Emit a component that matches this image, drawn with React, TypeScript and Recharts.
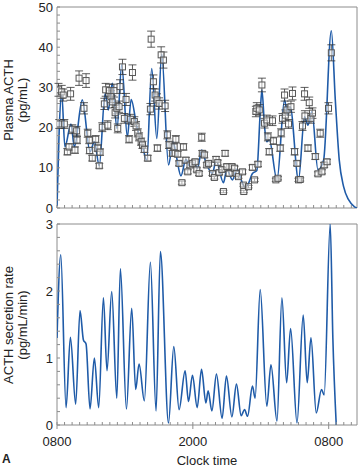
import React from 'react';
import { ComposedChart, Line, Scatter, ErrorBar, XAxis, YAxis, ReferenceArea } from 'recharts';

const FONT = '"Liberation Sans", Arial, Helvetica, sans-serif';
const BLUE = '#1f5ba8';
const FRAME = '#8c8c8c';
const TEXT = '#222';

// plasma ACTH samples: minutes after 0800, pg/mL, +/- error
const sampleTimes = [
  8, 12, 25, 33, 39, 55, 64, 72, 81, 95,
  104, 106, 117, 143, 154, 163, 171, 173, 187, 205,
  216, 224, 228, 240, 251, 258, 269, 278, 286, 293,
  302, 308, 317, 322, 329, 334, 347, 357, 366, 382,
  389, 400, 410, 419, 428, 435, 446, 453, 463, 481,
  495, 499, 511, 520, 530, 532, 541, 552, 564, 573,
  585, 594, 612, 621, 626, 630, 640, 647, 662, 670,
  683, 693, 705, 718, 732, 741, 753, 767, 770, 781,
  794, 803, 824, 834, 843, 852, 859, 874, 882, 891,
  900, 912, 927, 941, 950, 962, 983, 988, 990, 1015,
  1036, 1047, 1054, 1059, 1065, 1072, 1086, 1100, 1112, 1118,
  1125, 1142, 1147, 1160, 1171, 1183, 1188, 1195, 1206, 1210,
  1219, 1227, 1240, 1248, 1259, 1272, 1280, 1289, 1301, 1312,
  1314, 1330, 1337, 1346, 1354, 1369, 1383, 1395, 1404, 1416,
  1431, 1439, 1454,
];
const sampleValues = [
  29.4, 20.9, 28.9, 28.1, 20.9, 14.0, 15.2, 28.4, 19.6, 14.4,
  19.2, 16.9, 32.3, 24.8, 31.7, 18.6, 16.9, 14.3, 12.4, 17.1,
  14.9, 10.5, 13.9, 20.1, 25.9, 29.4, 20.6, 29.2, 27.7, 26.4,
  29.2, 23.7, 24.8, 19.8, 25.2, 30.2, 35.1, 22.3, 27.0, 17.1,
  22.1, 33.7, 21.5, 20.4, 18.7, 17.7, 16.5, 15.7, 14.6, 12.4,
  24.6, 42.0, 31.4, 28.1, 26.9, 14.9, 26.0, 38.1, 36.8, 25.4,
  18.2, 15.7, 13.6, 15.2, 13.6, 17.1, 13.4, 11.1, 6.3, 15.2,
  11.9, 9.0, 10.7, 11.1, 11.5, 9.5, 8.6, 17.6, 13.6, 13.2,
  10.7, 11.1, 8.6, 7.6, 12.1, 11.3, 8.8, 9.6, 4.1, 13.6,
  10.3, 8.6, 10.3, 9.9, 8.6, 7.8, 9.0, 5.7, 4.1, 5.3,
  10.1, 7.0, 24.0, 24.8, 10.9, 24.4, 30.6, 21.1, 21.9, 17.7,
  14.0, 21.7, 16.7, 7.0, 7.4, 14.9, 18.7, 22.3, 28.1, 23.1,
  24.4, 20.9, 25.2, 28.5, 14.0, 11.1, 7.0, 7.1, 20.4, 28.4,
  22.9, 14.9, 26.2, 22.3, 23.6, 12.8, 8.5, 18.6, 9.0, 10.7,
  11.5, 24.8, 38.6,
];
const sampleErrors = [
  1.6, 1.1, 1.6, 1.5, 1.1, 0.8, 0.8, 1.6, 1.1, 0.8,
  1.1, 0.9, 1.8, 1.4, 1.7, 1.0, 0.9, 0.8, 0.7, 0.9,
  0.8, 0.6, 0.8, 1.1, 1.4, 1.6, 1.1, 1.6, 1.5, 1.5,
  1.6, 1.3, 1.4, 1.1, 1.4, 1.7, 1.9, 1.2, 1.5, 0.9,
  1.2, 1.9, 1.2, 1.1, 1.0, 1.0, 0.9, 0.9, 0.8, 0.7,
  1.4, 2.0, 1.7, 1.5, 1.5, 0.8, 1.4, 2.0, 2.0, 1.4,
  1.0, 0.9, 0.7, 0.8, 0.7, 0.9, 0.7, 0.6, 0.4, 0.8,
  0.7, 0.5, 0.6, 0.6, 0.6, 0.5, 0.5, 1.0, 0.7, 0.7,
  0.6, 0.6, 0.5, 0.4, 0.7, 0.6, 0.5, 0.5, 0.3, 0.7,
  0.6, 0.5, 0.6, 0.5, 0.5, 0.4, 0.5, 0.3, 0.3, 0.3,
  0.6, 0.4, 1.3, 1.4, 0.6, 1.3, 1.7, 1.2, 1.2, 1.0,
  0.8, 1.2, 0.9, 0.4, 0.4, 0.8, 1.0, 1.2, 1.5, 1.3,
  1.3, 1.1, 1.4, 1.6, 0.8, 0.6, 0.4, 0.4, 1.1, 1.6,
  1.3, 0.8, 1.4, 1.2, 1.3, 0.7, 0.5, 1.0, 0.5, 0.6,
  0.6, 1.4, 2.0,
];

// fitted concentration curve
const fitTimes = [
  0, 12, 25, 42, 74, 92, 134, 175, 198, 224,
  255, 272, 293, 318, 343, 373, 393, 423, 453, 476,
  502, 529, 555, 591, 615, 632, 657, 683, 705, 723,
  745, 767, 790, 824, 843, 882, 900, 930, 953, 994,
  1010, 1036, 1059, 1077, 1086, 1100, 1112, 1125, 1166, 1206,
  1222, 1236, 1280, 1312, 1330, 1351, 1383, 1413, 1454, 1475,
  1496, 1519, 1546, 1577, 1590,
];
const fitValues = [
  0.5, 20, 28.5, 15.2, 20.9, 15.2, 26.9, 14.0, 16.5, 10.5,
  28.5, 24.4, 31.0, 19.8, 35.6, 17.7, 27.0, 20.2, 15.3, 11.9,
  34.7, 17.3, 38.3, 10.7, 16.5, 13.0, 8.0, 12.1, 10.3, 11.3,
  9.9, 14.4, 11.2, 8.6, 11.9, 6.3, 9.5, 7.0, 9.6, 5.3,
  5.7, 8.6, 9.3, 23.6, 29.4, 20.2, 16.5, 17.0, 7.0, 26.9,
  23.1, 25.2, 7.0, 22.7, 20.6, 24.0, 9.5, 11.9, 44.1, 26.9,
  11.9, 5.3, 2.0, 0.3, 0,
];

// deconvolved secretion rate
const rateTimes = [
  0, 20, 48, 71, 99, 122, 140, 154, 175, 198,
  221, 246, 265, 290, 317, 336, 368, 396, 417, 435,
  463, 495, 525, 548, 591, 619, 647, 679, 697, 718,
  743, 766, 789, 801, 821, 845, 875, 898, 927, 951,
  976, 994, 1010, 1036, 1050, 1077, 1112, 1134, 1166, 1192,
  1217, 1238, 1272, 1305, 1326, 1346, 1374, 1402, 1416, 1448,
  1462, 1480,
];
const rateValues = [
  1.3, 2.54, 0.26, 1.31, 0.31, 1.71, 1.27, 1.21, 0.24, 1.0,
  0.26, 1.9, 0.81, 1.99, 0.4, 2.33, 0.24, 1.74, 0.53, 0.91,
  0.36, 2.43, 0.21, 2.59, 0.03, 1.17, 0.23, 0.81, 0.35, 0.74,
  0.26, 0.83, 0.33, 0.51, 0.21, 0.76, 0.1, 0.73, 0.12, 0.61,
  0.14, 0.23, 0.13, 0.58, 0.4, 2.02, 0.28, 0.9, 0.06, 1.9,
  0.63, 1.44, 0.03, 1.64, 0.63, 1.3, 0.18, 0.53, 0.45, 3.0,
  1.3, 0,
];

const clockTicks = [0, 720, 1440];
const clockLabels = ['0800', '2000', '0800'];
const acthLabels = [0, 10, 20, 30, 40, 50];
const rateLabels = [0, 1, 2, 3];

const X_MAX = 1590;
const minorX = Array.from({ length: 40 }, (_, i) => i * 40);
const minorActh = Array.from({ length: 26 }, (_, i) => i * 2);
const minorRate = Array.from({ length: 16 }, (_, i) => (i * 2) / 10);

const sampleData = sampleTimes.map((t, i) => ({ t, v: sampleValues[i], err: sampleErrors[i] }));
const fitData = fitTimes.map((t, i) => ({ t, v: fitValues[i] }));
const rateData = rateTimes.map((t, i) => ({ t, v: rateValues[i] }));

function XTick(props: any) {
  const { x, y, payload, labelled } = props;
  const idx = clockTicks.indexOf(payload.value);
  const major = labelled && idx >= 0;
  return (
    <g>
      <line x1={x} x2={x} y1={y} y2={y - 3} stroke={FRAME} />
      {major && <line x1={x} x2={x} y1={y} y2={y + 4} stroke={FRAME} />}
      {major && (
        <text x={x} y={y + 21} textAnchor="middle" fontSize={13} fontFamily={FONT} fill={TEXT}>
          {clockLabels[idx]}
        </text>
      )}
    </g>
  );
}

function YTick(props: any) {
  const { x, y, payload, labels } = props;
  const v = payload.value;
  const show = labels.some((l: number) => Math.abs(l - v) < 1e-6);
  return (
    <g>
      <line x1={x} x2={x + 3} y1={y} y2={y} stroke={FRAME} />
      {show && (
        <text x={x - 4} y={y} dy="0.35em" textAnchor="end" fontSize={13} fontFamily={FONT} fill={TEXT}>
          {v}
        </text>
      )}
    </g>
  );
}

function AxisTitle({ lines, cy }: { lines: string[]; cy: number }) {
  const xs = [13, 27];
  return (
    <g>
      {lines.map((s, i) => (
        <text
          key={i}
          x={xs[i]}
          y={cy}
          transform={`rotate(-90 ${xs[i]} ${cy})`}
          textAnchor="middle"
          fontSize={13}
          fontFamily={FONT}
          fill={TEXT}
        >
          {s}
        </text>
      ))}
    </g>
  );
}

function BottomTitle() {
  return (
    <g>
      <text x={207} y={250} textAnchor="middle" fontSize={13} fontFamily={FONT} fill={TEXT}>
        Clock time
      </text>
      <text x={2} y={248} fontSize={12} fontWeight="bold" fontFamily={FONT} fill={TEXT}>
        A
      </text>
    </g>
  );
}

const SquareMark = (p: any) => (
  <rect x={p.cx - 3} y={p.cy - 3} width={6} height={6} fill="#fff" fillOpacity={0.5} stroke="#555" strokeWidth={1} />
);

export default function App() {
  return (
    <div style={{ position: 'absolute', left: 0, top: 0, width: 359, height: 467, background: '#fff' }}>
      <div style={{ position: 'absolute', left: 0, top: 0 }}>
        <ComposedChart width={359} height={215} margin={{ top: 7, right: 2, bottom: 0, left: 0 }}>
          <XAxis
            type="number"
            dataKey="t"
            domain={[0, X_MAX]}
            ticks={minorX}
            interval={0}
            height={7}
            axisLine={false}
            tickLine={false}
            tickSize={0}
            tickMargin={0}
            allowDataOverflow
            tick={(p: any) => <XTick {...p} labelled={false} />}
          />
          <YAxis
            type="number"
            domain={[0, 50]}
            ticks={minorActh}
            interval={0}
            width={57}
            axisLine={false}
            tickLine={false}
            tickSize={0}
            tickMargin={0}
            allowDataOverflow
            tick={(p: any) => <YTick {...p} labels={acthLabels} />}
            label={<AxisTitle lines={['Plasma ACTH', '(pg/mL)']} cy={100} />}
          />
          <ReferenceArea x1={0} x2={X_MAX} y1={0} y2={50} fill="none" stroke={FRAME} ifOverflow="visible" />
          <Line
            data={fitData}
            dataKey="v"
            type="monotone"
            stroke={BLUE}
            strokeWidth={1.6}
            dot={false}
            isAnimationActive={false}
          />
          <Scatter data={sampleData} dataKey="v" shape={SquareMark} isAnimationActive={false}>
            <ErrorBar dataKey="err" direction="y" width={4} stroke="#333" strokeWidth={0.8} />
          </Scatter>
        </ComposedChart>
      </div>
      <div style={{ position: 'absolute', left: 0, top: 215 }}>
        <ComposedChart width={359} height={252} margin={{ top: 9, right: 2, bottom: 0, left: 0 }}>
          <XAxis
            type="number"
            dataKey="t"
            domain={[0, X_MAX]}
            ticks={minorX}
            interval={0}
            height={42}
            axisLine={false}
            tickLine={false}
            tickSize={0}
            tickMargin={0}
            allowDataOverflow
            tick={(p: any) => <XTick {...p} labelled />}
            label={<BottomTitle />}
          />
          <YAxis
            type="number"
            domain={[0, 3]}
            ticks={minorRate}
            interval={0}
            width={57}
            axisLine={false}
            tickLine={false}
            tickSize={0}
            tickMargin={0}
            allowDataOverflow
            tick={(p: any) => <YTick {...p} labels={rateLabels} />}
            label={<AxisTitle lines={['ACTH secretion rate', '(pg/mL/min)']} cy={110} />}
          />
          <ReferenceArea x1={0} x2={X_MAX} y1={0} y2={3} fill="none" stroke={FRAME} ifOverflow="visible" />
          <Line
            data={rateData}
            dataKey="v"
            type="monotone"
            stroke={BLUE}
            strokeWidth={1.6}
            dot={false}
            isAnimationActive={false}
          />
        </ComposedChart>
      </div>
    </div>
  );
}
